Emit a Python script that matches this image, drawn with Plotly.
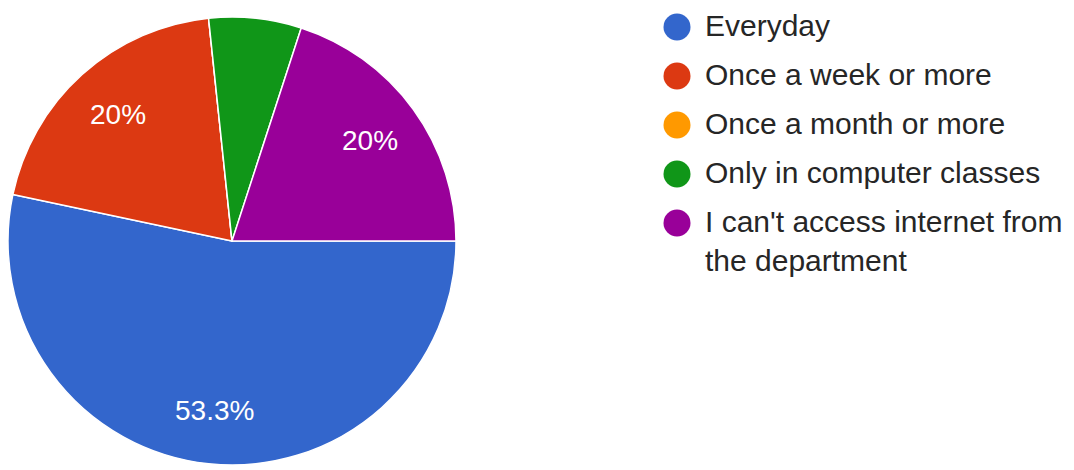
import math
import plotly.graph_objects as go

# Survey answers: how often students access the internet from the department
categories = [
    "Everyday",
    "Once a week or more",
    "Once a month or more",
    "Only in computer classes",
    "I can't access internet from the department",
]
legend_labels = [
    "Everyday",
    "Once a week or more",
    "Once a month or more",
    "Only in computer classes",
    "I can't access internet from<br>the department",
]
responses = [8, 3, 0, 1, 3]
colors = ["#3366cc", "#dc3912", "#ff9900", "#109618", "#990099"]

W, H = 1074, 470
FONT = "Liberation Sans, Arial, sans-serif"

# pie geometry (pixels)
CX, CY, R = 232, 241, 224
ROTATION = 90          # first slice starts at 3 o'clock
LABEL_RADIUS = 0.76    # fraction of radius where percentages sit
MIN_LABEL_FRAC = 0.1   # smaller slices get no percentage

# legend geometry
LEGEND_X = 677 / W
LEGEND_TOP = 27
LEGEND_STEP = 49

fig = go.Figure()

fig.add_trace(go.Pie(
    labels=categories,
    values=responses,
    sort=False,
    direction="clockwise",
    rotation=ROTATION,
    marker=dict(colors=colors, line=dict(color="white", width=1.5)),
    textinfo="none",
    hoverinfo="label+percent",
    showlegend=False,
    domain=dict(x=[(CX - R) / W, (CX + R) / W],
                y=[(H - CY - R) / H, (H - CY + R) / H]),
))

# percentage labels placed along each slice's bisector
total = sum(responses)
annotations = []
cum = 0.0
for v in responses:
    frac = v / total
    if frac >= MIN_LABEL_FRAC:
        mid = cum + frac / 2
        ang = math.radians(ROTATION + 360 * mid)
        px = CX + LABEL_RADIUS * R * math.sin(ang)
        py = CY - LABEL_RADIUS * R * math.cos(ang)
        txt = f"{100 * frac:.1f}".rstrip("0").rstrip(".") + "%"
        annotations.append(dict(
            x=px / W, y=1 - py / H, xref="paper", yref="paper",
            text=txt, showarrow=False, xanchor="center", yanchor="middle",
            font=dict(family=FONT, size=28, color="white"),
        ))
    cum += frac

# legend: coloured dots with labels, one row per category
idx = list(range(len(categories)))
fig.add_trace(go.Scatter(
    x=[LEGEND_X] * len(categories),
    y=idx,
    mode="markers",
    marker=dict(size=27, color=colors, line=dict(width=0)),
    hoverinfo="skip",
    showlegend=False,
    cliponaxis=False,
))
for i, lab in zip(idx, legend_labels):
    annotations.append(dict(
        x=LEGEND_X, y=i, xref="x", yref="y",
        text=lab, showarrow=False, xanchor="left", yanchor="top",
        xshift=26, yshift=20, align="left",
        font=dict(family=FONT, size=30, color="#262626"),
    ))

y_lo = -LEGEND_TOP / LEGEND_STEP
y_hi = (H - LEGEND_TOP) / LEGEND_STEP

fig.update_layout(
    width=W, height=H,
    margin=dict(l=0, r=0, t=0, b=0),
    paper_bgcolor="white",
    plot_bgcolor="rgba(0,0,0,0)",
    xaxis=dict(range=[0, 1], domain=[0, 1], visible=False, fixedrange=True),
    yaxis=dict(range=[y_hi, y_lo], domain=[0, 1], visible=False, fixedrange=True),
    annotations=annotations,
    font=dict(family=FONT),
)

fig.write_html("out.html", config={"displayModeBar": False})
